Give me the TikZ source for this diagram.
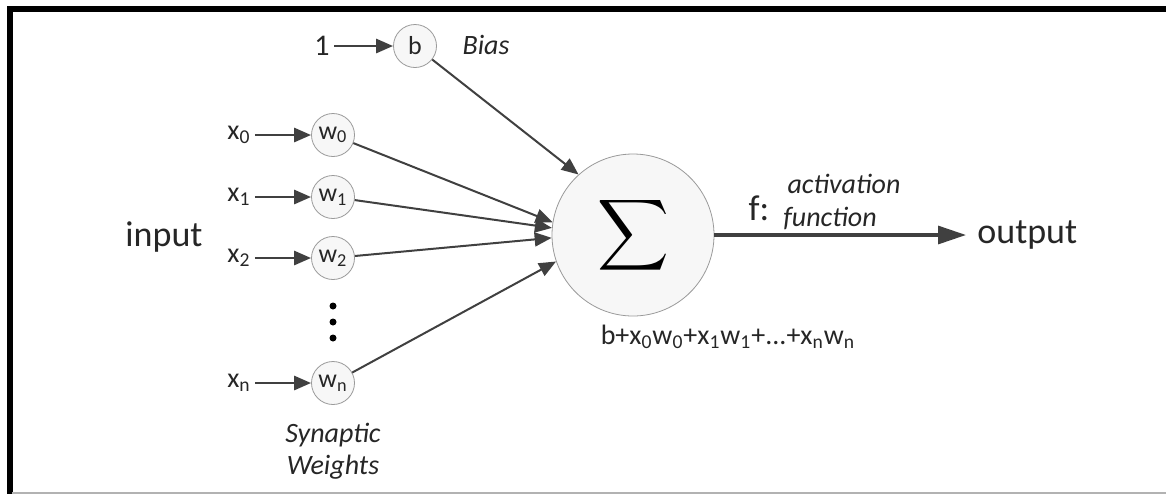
\documentclass[tikz,border=0pt]{standalone}
\usepackage{fontspec}
\setmainfont{Carlito}
\usetikzlibrary{arrows.meta}
\usetikzlibrary{positioning}
\usepackage{amsmath}

\definecolor{ink}{HTML}{262626}
\definecolor{arr}{HTML}{404040}
\definecolor{rim}{HTML}{9A9A9A}
\definecolor{cell}{HTML}{F7F7F7}

\begin{document}
\begin{tikzpicture}[x=0.5pt,y=-0.5pt,>={Triangle[length=8.5pt,width=7pt]},node distance=46.5pt,auto,
  wt/.style={circle,draw=rim,fill=cell,minimum size=21.5pt,inner sep=0pt,text=ink,font=\fontsize{13}{14}\selectfont},
  lbl/.style={text=ink,font=\fontsize{14}{15}\selectfont,inner sep=2pt},
  big/.style={text=ink,font=\fontsize{18}{20}\selectfont},
  note/.style={text=ink,font=\fontsize{14}{16}\selectfont\itshape}]
\useasboundingbox (0,0) rectangle (1166,494);
% frame
\draw[line width=3pt] (1166,9) -- (9.5,9) -- (9.5,494);
\draw[gray!60,line width=1pt] (12,493) -- (1166,493);

\node[wt] (b) at (415,46) {b};
\node[lbl,font=\fontsize{15}{16}\selectfont] (one) [left of = b] {1};
\node[note] (bias) at (486,45) {Bias};

\node[wt] (w0) at (333,135) {w\textsubscript{0}};
\node[wt,node distance=31pt] (w1) [below of = w0] {w\textsubscript{1}};
\node[wt,node distance=30.5pt] (w2) [below of = w1] {w\textsubscript{2}};
\node[wt] (wn) at (333,383) {w\textsubscript{n}};
\foreach \y in {306,322,338}
  \fill[black] (333,\y) circle (1.75pt);

\node[lbl,node distance=47pt] (x0) [left of = w0] {x\textsubscript{0}};
\node[lbl,node distance=47pt] (x1) [left of = w1] {x\textsubscript{1}};
\node[lbl,node distance=47pt] (x2) [left of = w2] {x\textsubscript{2}};
\node[lbl,node distance=47pt] (xn) [left of = wn] {x\textsubscript{n}};

\node[big] (inp) at (164,237) {input};
\node[note,align=center] (syn) at (333,451) {Synaptic\\Weights};

\node[circle,draw=rim,fill=cell,minimum size=81pt,inner sep=0pt] (sum) at (633,235)
  {\fontsize{27}{27}\selectfont$\displaystyle\sum$};
\node[lbl] (total) at (728,337) {b+x\textsubscript{0}w\textsubscript{0}+x\textsubscript{1}w\textsubscript{1}+...+x\textsubscript{n}w\textsubscript{n}};

\node[big] (f) at (759,208) {f:};
\node[note] (act) at (844,184) {activation};
\node[note] (fun) at (830,218) {function};
\node[big,anchor=west,inner sep=5.5pt] (out) at (966,235) {output};

\draw[->,arr,line width=1.4pt] (one) edge (b);
\draw[->,arr,line width=1.4pt] (x0) edge (w0);
\draw[->,arr,line width=1.4pt] (x1) edge (w1);
\draw[->,arr,line width=1.4pt] (x2) edge (w2);
\draw[->,arr,line width=1.4pt] (xn) edge (wn);

\draw[->,arr,line width=1pt] (b) edge (sum.132);
\draw[->,arr,line width=1pt] (w0) edge (sum.171);
\draw[->,arr,line width=1pt] (w1) edge (sum.175);
\draw[->,arr,line width=1pt] (w2) edge (sum.182);
\draw[->,arr,line width=1pt] (wn) edge (sum.199);

\draw[->,arr,line width=1.6pt,>={Triangle[length=14pt,width=9pt]}] (sum) edge (out);

\end{tikzpicture}
\end{document}
